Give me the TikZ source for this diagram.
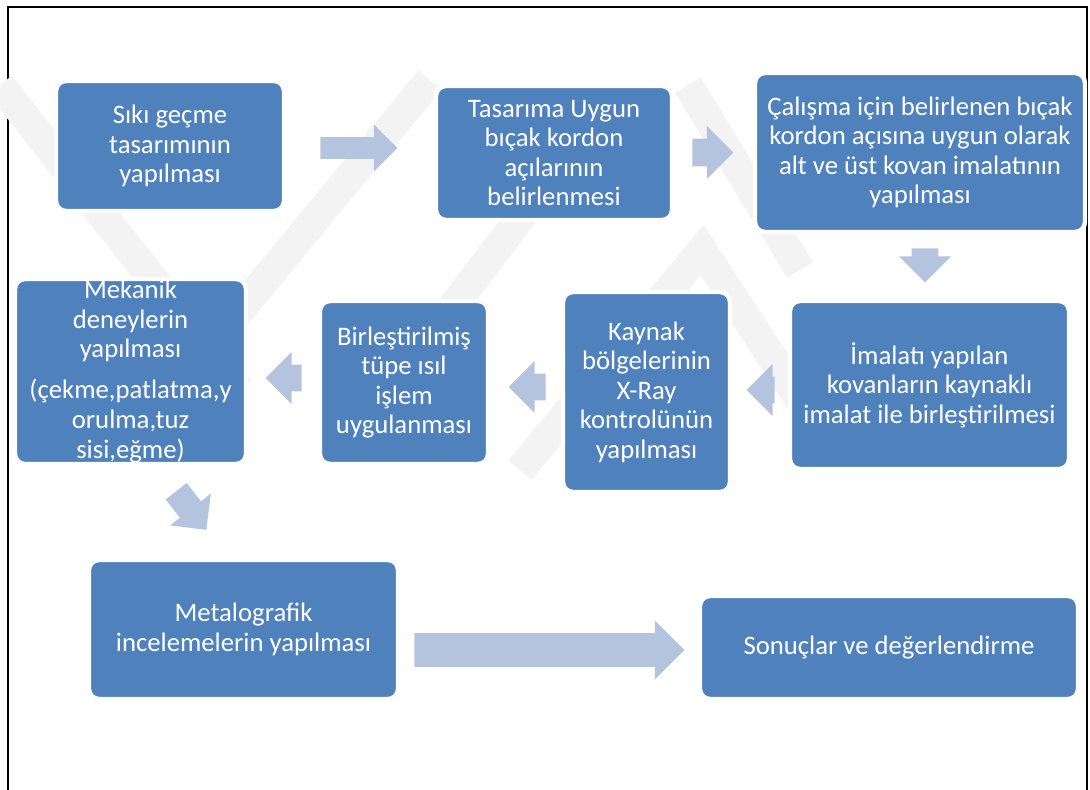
\documentclass[tikz,border=0pt]{standalone}
\usepackage{fontspec}
\setmainfont{Carlito}
\usetikzlibrary{shapes.arrows}

\definecolor{boxblue}{HTML}{4F81BD}
\definecolor{arrowblue}{HTML}{B4C4DE}
\definecolor{markgray}{HTML}{F3F3F3}

\tikzset{
    stepbox/.style={rectangle, rounded corners=0.2cm, fill=boxblue, draw=white,
        line width=2.5pt, text=white, align=center, inner sep=0pt,
        font=\fontsize{15.2}{16.8}\selectfont},
    blockarrow/.style={single arrow, fill=arrowblue, draw=none, inner sep=0pt,
        single arrow head indent=0pt, single arrow tip angle=90},
    markband/.style={markgray, line width=0.6cm}
}

\begin{document}
\begin{tikzpicture}[x=0.02cm, y=-0.02cm]
    % --- sayfa sınırı ---
    \useasboundingbox (0,0) rectangle (1090,790);
    \draw[line width=1.2pt] (8,790) -- (8,7) -- (1087,7) -- (1087,790);

    % --- arka plandaki soluk logo ---
    \draw[markband] (0,85) -- (240,390);
    \draw[markband] (170,395) -- (430,80);
    \draw[markband] (340,455) -- (610,100);
    \draw[markband] (520,470) -- (702,250) -- (800,400);
    \draw[markband] (688,85) -- (800,270);

    % --- kutular (üst sıra) ---
    \node[stepbox, minimum width=4.56cm, minimum height=2.6cm] (tasarim) at (170,146)
        {Sıkı geçme\\tasarımının\\yapılması};
    \node[stepbox, minimum width=4.72cm, minimum height=2.68cm] (aci) at (554,153)
        {Tasarıma Uygun\\bıçak kordon\\açılarının\\belirlenmesi};
    \node[stepbox, minimum width=6.6cm, minimum height=3.18cm] (kovan) at (920,152.5)
        {Çalışma için belirlenen bıçak\\kordon açısına uygun olarak\\alt ve üst kovan imalatının\\yapılması};

    % --- kutular (orta sıra) ---
    \node[stepbox, minimum width=5.58cm, minimum height=3.36cm] (kaynak) at (929.5,385)
        {İmalatı yapılan\\kovanların kaynaklı\\imalat ile birleştirilmesi};
    \node[stepbox, minimum width=3.34cm, minimum height=4.0cm] (xray) at (646.5,392)
        {Kaynak\\bölgelerinin\\X-Ray\\kontrolünün\\yapılması};
    \node[stepbox, minimum width=3.36cm, minimum height=3.26cm] (isil) at (404,382.5)
        {Birleştirilmiş\\tüpe ısıl\\işlem\\uygulanması};
    \node[stepbox, minimum width=4.62cm, minimum height=3.7cm] (mekanik) at (130.5,371.5)
        {Mekanik\\deneylerin\\yapılması\\[0.23cm](çekme,patlatma,y\\orulma,tuz\\sisi,eğme)};

    % --- kutular (alt sıra) ---
    \node[stepbox, minimum width=6.18cm, minimum height=2.78cm] (metalo) at (243.5,629.5)
        {Metalografik\\incelemelerin yapılması};
    \node[stepbox, minimum width=7.56cm, minimum height=2.06cm] (sonuc) at (889,647.5)
        {Sonuçlar ve değerlendirme};

    % --- blok oklar ---
    \node[blockarrow, minimum height=1.54cm, minimum width=0.8cm, inner ysep=0.21cm,
        anchor=tail] (a1) at (320,148) {};
    \node[blockarrow, minimum height=0.82cm, minimum width=0.82cm, inner ysep=0.27cm,
        anchor=tail] (a2) at (692,152.5) {};
    \node[blockarrow, minimum height=0.68cm, minimum width=0.88cm, inner ysep=0.26cm,
        rotate=-90, anchor=tail] (a3) at (925,248) {};
    \node[blockarrow, minimum height=0.56cm, minimum width=0.8cm, inner ysep=0.26cm,
        rotate=180, anchor=tail] (a4) at (775,390) {};
    \node[blockarrow, minimum height=0.74cm, minimum width=0.82cm, inner ysep=0.26cm,
        rotate=180, anchor=tail] (a5) at (546,387) {};
    \node[blockarrow, minimum height=0.72cm, minimum width=0.86cm, inner ysep=0.26cm,
        rotate=180, anchor=tail] (a6) at (302,378) {};
    \node[blockarrow, minimum height=0.98cm, minimum width=0.84cm, inner ysep=0.26cm,
        rotate=-52, anchor=tail] (a7) at (176,491) {};
    \node[blockarrow, minimum height=5.4cm, minimum width=1.08cm, inner ysep=0.33cm,
        anchor=tail] (a8) at (414,650) {};
\end{tikzpicture}
\end{document}
